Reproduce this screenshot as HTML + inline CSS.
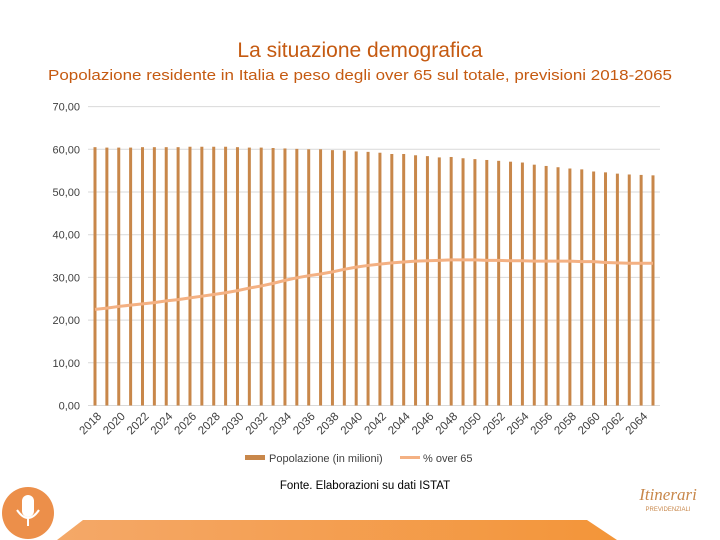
<!DOCTYPE html>
<html><head><meta charset="utf-8"><style>
body{margin:0;width:720px;height:540px;background:#fff;overflow:hidden;font-family:"Liberation Sans",sans-serif}
svg{display:block}
</style></head><body>
<svg width="720" height="540">
<text x="360" y="57" text-anchor="middle" font-size="21" fill="#c55a11">La situazione demografica</text>
<text x="360" y="80" text-anchor="middle" font-size="15" textLength="624" lengthAdjust="spacingAndGlyphs" fill="#c55a11">Popolazione residente in Italia e peso degli over 65 sul totale, previsioni 2018-2065</text>
<g id="grid"></g><g id="bars"></g><g id="line"></g><g id="xl"></g>
<g>
<rect x="245" y="455" width="20" height="5" fill="#c8874a"/>
<text x="269" y="462" font-size="11" fill="#404040">Popolazione (in milioni)</text>
<rect x="400" y="456" width="20" height="3" fill="#f4b183"/>
<text x="423" y="462" font-size="11" fill="#404040">% over 65</text>
</g>
<text x="365" y="489" text-anchor="middle" font-size="11.5" fill="#000">Fonte. Elaborazioni su dati ISTAT</text>
<defs><linearGradient id="g" x1="0" x2="1"><stop offset="0" stop-color="#f4a868"/><stop offset="1" stop-color="#f39539"/></linearGradient></defs>
<polygon points="83,520 587,520 617,540 57,540" fill="url(#g)"/>
<circle cx="28" cy="513" r="26" fill="#ec8f4a"/>
<rect x="22" y="495" width="12" height="22" rx="6" fill="#fff"/>
<path d="M17 510 q11 16 22 0" stroke="#fff" stroke-width="2" fill="none"/>
<rect x="27" y="518" width="2" height="8" fill="#fff"/>
<text x="668" y="500" text-anchor="middle" font-size="17" font-style="italic" font-family="Liberation Serif,serif" fill="#c8874a">Itinerari</text>
<text x="668" y="511" text-anchor="middle" font-size="6" fill="#c8874a">PREVIDENZIALI</text>
</svg>
<script>
const years=[];for(let y=2018;y<=2065;y++)years.push(y);
const population=[60.5,60.4,60.4,60.4,60.5,60.5,60.5,60.5,60.6,60.6,60.6,60.6,60.5,60.4,60.4,60.3,60.2,60.1,60.0,60.0,59.8,59.7,59.5,59.4,59.2,58.9,58.9,58.6,58.4,58.1,58.2,57.9,57.7,57.5,57.3,57.1,56.9,56.4,56.1,55.8,55.5,55.3,54.8,54.6,54.3,54.1,54.0,53.9];
const over65=[22.5,22.8,23.2,23.5,23.8,24.1,24.5,24.8,25.2,25.6,26.0,26.4,26.9,27.5,28.0,28.6,29.3,29.9,30.4,30.8,31.3,31.9,32.4,32.8,33.1,33.4,33.6,33.8,33.9,34.0,34.1,34.1,34.1,34.0,34.0,33.9,33.9,33.8,33.8,33.8,33.8,33.7,33.7,33.5,33.4,33.3,33.3,33.3];
const yTicks=["0,00","10,00","20,00","30,00","40,00","50,00","60,00","70,00"];
const NS="http://www.w3.org/2000/svg";
const x=i=>95+i*(558/47), y=v=>405.5-v*4.27;
function mk(t,a,p){const e=document.createElementNS(NS,t);for(const k in a)e.setAttribute(k,a[k]);p.appendChild(e);return e;}
const G=document.getElementById('grid');
yTicks.forEach((t,i)=>{const v=i*10;
 const l=mk('line',{x1:88,x2:660,y1:y(v),y2:y(v),stroke:'#d9d9d9','stroke-width':1},G);
 
 
 const tx=mk('text',{x:80,y:y(v)+4,'text-anchor':'end','font-size':11,fill:'#404040'},G);tx.textContent=t;
 
 
});
const B=document.getElementById('bars');
population.forEach((v,i)=>{const r=mk('rect',{x:x(i)-1.5,y:y(v),width:3,height:y(0)-y(v),fill:'#c8874a'},B);
 
 });
const L=mk('polyline',{points:over65.map((v,i)=>x(i)+','+y(v)).join(' '),fill:'none',stroke:'#f4b183','stroke-width':3},document.getElementById('line'));


const X=document.getElementById('xl');
years.forEach((yr,i)=>{if(i%2)return;const px=x(i)+7,py=417;
 const t=mk('text',{x:px,y:py,'text-anchor':'end','font-size':11.5,fill:'#404040',transform:`rotate(-45 ${px} ${py})`},X);t.textContent=yr;
 
 });
</script>
</body></html>
